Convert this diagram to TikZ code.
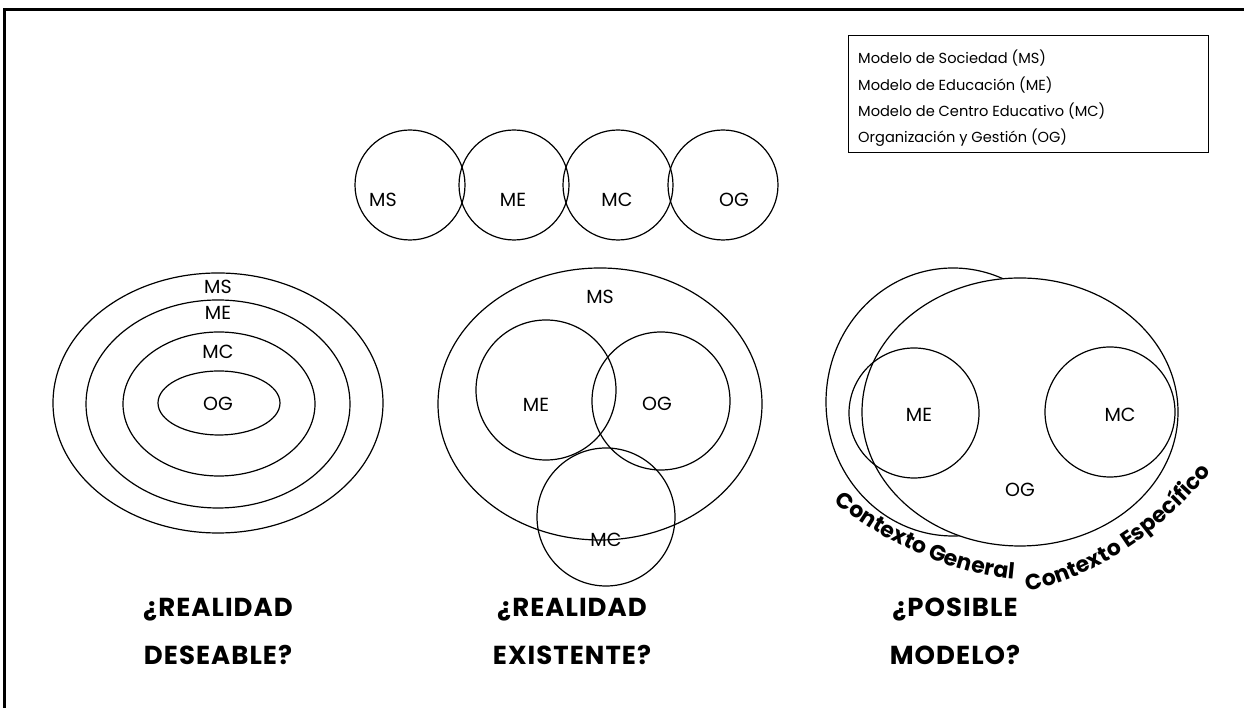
\documentclass[tikz,border=0pt]{standalone}
\usepackage{fontspec}
\setmainfont{Poppins}
\newfontfamily\titlefont[LetterSpace=4]{Poppins}
\usetikzlibrary{shapes.geometric,decorations.text}
\begin{document}
\begin{tikzpicture}[x=1pt,y=1pt,
  ring/.style={draw, ellipse, line width=1.2pt, inner sep=0pt},
  lbl/.style={font=\fontsize{19}{21}\selectfont, inner sep=1pt},
  leg/.style={font=\fontsize{14.6}{16}\selectfont, anchor=west, inner sep=0pt},
  ttl/.style={font=\titlefont\bfseries\fontsize{26}{28}\selectfont, inner sep=0pt},
  ctx/.style={decorate, decoration={text along path, text align=center,
     text={|\fontsize{22}{22}\selectfont\bfseries|#1}}}
]
\useasboundingbox (0,0) rectangle (1244,708);
\draw[line width=3pt] (4,0) -- (4,698) -- (1244,698);

% legend
\node[draw, line width=1pt, minimum width=360, minimum height=117, anchor=north west, inner sep=0pt] (legbox) at (848,673) {};
\node[leg] (l1) at (858,650) {Modelo de Sociedad (MS)};
\node[leg] (l2) at (858,623) {Modelo de Educación (ME)};
\node[leg] (l3) at (858,597) {Modelo de Centro Educativo (MC)};
\node[leg] (l4) at (858,570) {Organización y Gestión (OG)};

% top row
\node[ring, minimum width=110, minimum height=110] (tms) at (410,523) {};
\node[ring, minimum width=110, minimum height=110] (tme) at (514,523) {};
\node[ring, minimum width=110, minimum height=110] (tmc) at (618,523) {};
\node[ring, minimum width=110, minimum height=110] (tog) at (723,523) {};
\node[lbl] (tmsl) at (383,508) {MS};
\node[lbl] (tmel) at (513,508) {ME};
\node[lbl] (tmcl) at (617,508) {MC};
\node[lbl] (togl) at (734,508) {OG};

% left concentric
\node[ring, minimum width=330, minimum height=260] (lms) at (218,305) {};
\node[ring, minimum width=264, minimum height=208] (lme) at (218,304) {};
\node[ring, minimum width=192, minimum height=144] (lmc) at (219,304) {};
\node[ring, minimum width=122, minimum height=64] (log) at (219,305) {};
\node[lbl] (lmsl) at (218,421) {MS};
\node[lbl] (lmel) at (218,395) {ME};
\node[lbl] (lmcl) at (218,356) {MC};
\node[lbl] (logl) at (218,304) {OG};

% middle
\node[ring, minimum width=324, minimum height=272] (mms) at (600,304) {};
\node[ring, minimum width=140, minimum height=140] (mme) at (546,318) {};
\node[ring, minimum width=138, minimum height=138] (mog) at (661,307) {};
\node[ring, minimum width=138, minimum height=138] (mmc) at (606,191) {};
\node[lbl] (mmsl) at (600,411) {MS};
\node[lbl] (mmel) at (536,303) {ME};
\node[lbl] (mogl) at (657,304) {OG};
\node[lbl] (mmcl) at (606,168) {MC};

% right
\node[ring, minimum width=254, minimum height=268] (rcg) at (953,306) {};
\node[ring, fill=white, minimum width=316, minimum height=268] (rce) at (1020,296) {};
\node[ring, minimum width=130, minimum height=130] (rme) at (914,295) {};
\node[ring, minimum width=130, minimum height=130] (rmc) at (1110,296) {};
\node[lbl] (rmel) at (919,293) {ME};
\node[lbl] (rmcl) at (1120,293) {MC};
\node[lbl] (rogl) at (1020,218) {OG};

\coordinate (cg0) at (826,212);
\coordinate (cg1) at (1024,128);
\coordinate (ce0) at (1026,116);
\coordinate (ce1) at (1212,238);
\path[ctx={Contexto General}] (cg0) .. controls (875,172) and (945,132) .. (cg1);
\path[ctx={Contexto Específico}] (ce0) .. controls (1085,128) and (1158,168) .. (ce1);

% titles
\node[ttl] (t1a) at (218,98) {¿REALIDAD};
\node[ttl] (t1b) at (218,53) {DESEABLE?};
\node[ttl] (t2a) at (572,98) {¿REALIDAD};
\node[ttl] (t2b) at (572,53) {EXISTENTE?};
\node[ttl] (t3a) at (955,98) {¿POSIBLE};
\node[ttl] (t3b) at (955,53) {MODELO?};
\end{tikzpicture}
\end{document}
